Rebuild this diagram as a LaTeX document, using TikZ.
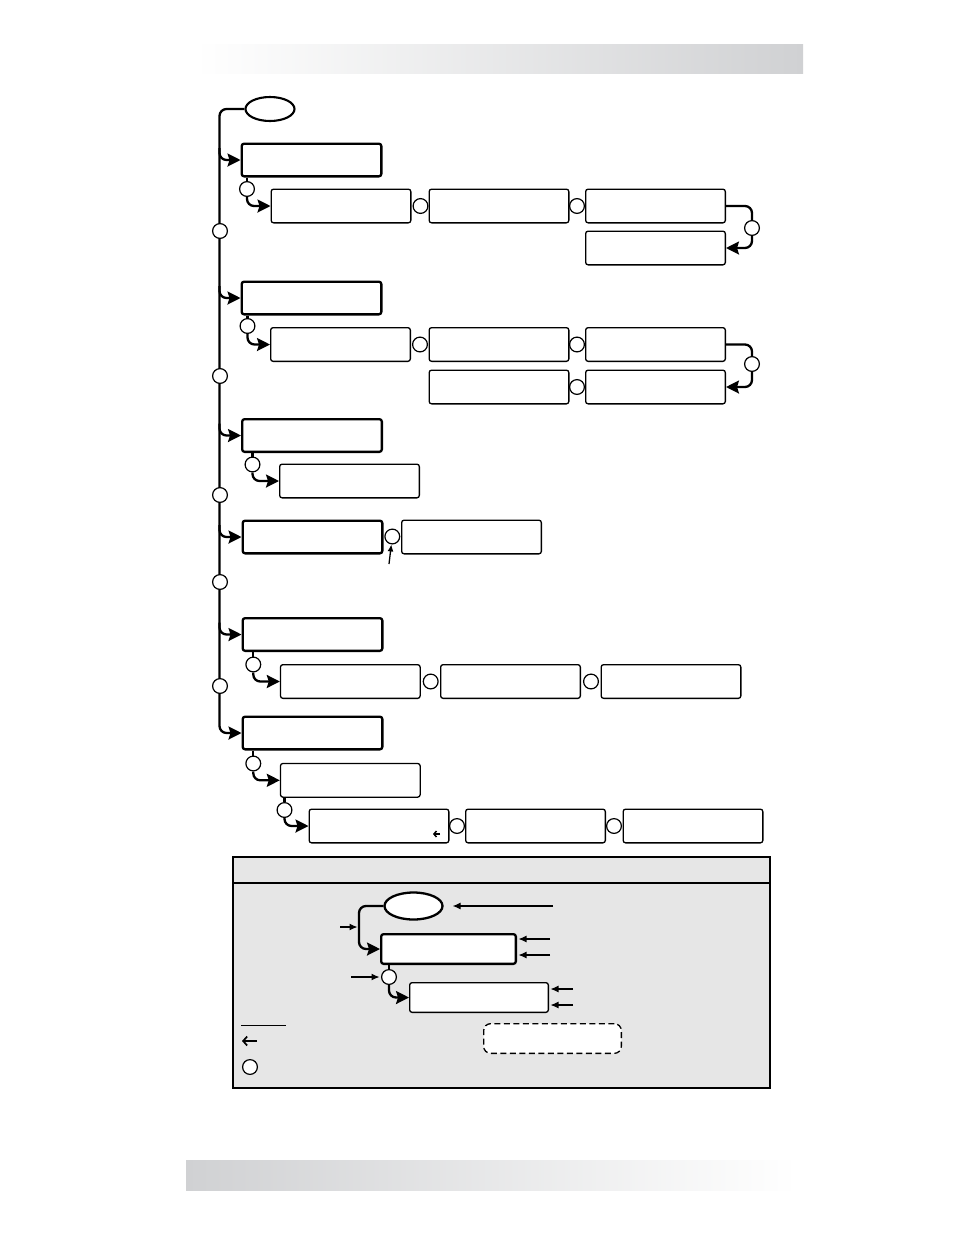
\documentclass[tikz,border=0pt]{standalone}
\usepackage{tikz}
\usetikzlibrary{arrows.meta,shapes.geometric}
\definecolor{barshade}{RGB}{208,209,211}
\definecolor{legendfill}{RGB}{230,230,230}
\tikzset{menubox/.style={draw,fill=white,line width=2.3pt,rounded corners=2.5pt,
   minimum width=139.7pt,minimum height=32.7pt,inner sep=0pt},
 subbox/.style={draw,fill=white,line width=1.3pt,rounded corners=2.5pt,
   minimum width=139.7pt,minimum height=33.7pt,inner sep=0pt},
 knob/.style={circle,draw,fill=white,line width=1.2pt,minimum size=14.8pt,inner sep=0pt},
 oval/.style={ellipse,draw,fill=white,line width=2.1pt,inner sep=0pt},
 wire/.style={line width=2.3pt,rounded corners=7pt},
 wirearrow/.style={wire,-{Stealth[length=13pt,width=13pt,inset=2pt]}},
 pointer/.style={line width=1.1pt,shorten >=1.5pt,-{Latex[length=8pt,width=7pt]}},
 }

\begin{document}
\begin{tikzpicture}[x=1pt,y=-1pt]
    \useasboundingbox (0,0) rectangle (954,1235);
    \shade[left color=white,right color=barshade] (195,44) rectangle (803,73);
    \shade[left color=barshade,right color=white] (186,1160) rectangle (797,1190);

    % menu tree
    \node[oval,minimum width=49pt,minimum height=24pt] (root) at (270,109) {};
    \node[menubox] (m1) at (311.5,160) {};
    \node[menubox] (m2) at (311.5,298) {};
    \node[menubox] (m3) at (312,435.5) {};
    \node[menubox] (m4) at (312.5,537) {};
    \node[menubox] (m5) at (312.5,634.5) {};
    \node[menubox] (m6) at (312.5,733) {};
    \coordinate (spine) at (219.5,0);
    \draw[wirearrow] (root.west) -- (root.west -| spine) |- (m6.west);
    \foreach \m in {m1,m2,m3,m4,m5}
        \draw[wirearrow] ([yshift=12pt]\m.west -| spine) |- (\m.west);
    \node[knob] (s1) at (220,231) {};
    \node[knob] (s2) at (220,376) {};
    \node[knob] (s3) at (220,495) {};
    \node[knob] (s4) at (220,582) {};
    \node[knob] (s5) at (220,686) {};

    % first row
    \node[knob] (k11) at (247,189) {};
    \node[subbox] (b11) at (341,206) {};
    \node[knob] (k12) at (420.5,206) {};
    \node[subbox] (b12) at (499,206) {};
    \node[knob] (k13) at (577,206) {};
    \node[subbox] (b13) at (655.5,206) {};
    \node[subbox] (b14) at (655.5,248) {};
    \node[knob] (k14) at (752,228) {};
    \draw[wire] (m1.south -| k11) -- (k11);
    \draw[wirearrow] (k11) |- (b11.west);
    \draw[wire] (b13.east) -| (k14);
    \draw[wirearrow] (k14) |- (b14.east);

    % second row
    \node[knob] (k21) at (247.5,326) {};
    \node[subbox] (b21) at (340.5,344.5) {};
    \node[knob] (k22) at (420,344.5) {};
    \node[subbox] (b22) at (499,344.5) {};
    \node[knob] (k23) at (577,344.5) {};
    \node[subbox] (b23) at (655.5,344.5) {};
    \node[subbox] (b24) at (655.5,387) {};
    \node[knob] (k24) at (752,364) {};
    \node[knob] (k25) at (577,387) {};
    \node[subbox] (b25) at (499,387) {};
    \draw[wire] (m2.south -| k21) -- (k21);
    \draw[wirearrow] (k21) |- (b21.west);
    \draw[wire] (b23.east) -| (k24);
    \draw[wirearrow] (k24) |- (b24.east);

    % third and fourth rows
    \node[knob] (k31) at (252.5,464.5) {};
    \node[subbox] (b31) at (349.5,481) {};
    \draw[wire] (m3.south -| k31) -- (k31);
    \draw[wirearrow] (k31) |- (b31.west);
    \node[knob] (k41) at (392.3,536.5) {};
    \node[subbox] (b41) at (471.5,537) {};
    \coordinate (tap) at (389,564);
    \draw[pointer,line width=1.3pt,shorten >=0pt,-{Latex[length=7pt,width=6pt]}] (tap) -- (k41);

    % fifth row
    \node[knob] (k51) at (253.3,664.5) {};
    \node[subbox] (b51) at (350.3,681.5) {};
    \node[knob] (k52) at (430.7,681.5) {};
    \node[subbox] (b52) at (510.5,681.5) {};
    \node[knob] (k53) at (591,681.5) {};
    \node[subbox] (b53) at (671,681.5) {};
    \draw[wire] (m5.south -| k51) -- (k51);
    \draw[wirearrow] (k51) |- (b51.west);

    % sixth row
    \node[knob] (k61) at (253.3,763.5) {};
    \node[subbox] (b61) at (350.3,780.3) {};
    \node[knob] (k62) at (284.5,810) {};
    \node[subbox] (b62) at (379,826) {};
    \node[knob] (k63) at (457,826) {};
    \node[subbox] (b63) at (535.5,826) {};
    \node[knob] (k64) at (614,826) {};
    \node[subbox] (b64) at (693,826) {};
    \draw[wire] (m6.south -| k61) -- (k61);
    \draw[wirearrow] (k61) |- (b61.west);
    \draw[wire] (b61.south -| k62) -- (k62);
    \draw[wirearrow] (k62) |- (b62.west);
    \draw[line width=1.5pt,-{Straight Barb[length=2.5pt,width=6pt]}]
        ([xshift=61pt,yshift=-8pt]b62.center) -- ++(-7,0);

    % legend
    \draw[line width=2.3pt,fill=legendfill] (233,857) rectangle (770,1088);
    \draw[line width=2.3pt] (233,883) -- (770,883);
    \node[oval,line width=2.3pt,minimum width=58pt,minimum height=27pt] (lroot) at (413.5,906) {};
    \node[menubox,minimum width=134.7pt,minimum height=29.7pt] (lm) at (448.5,949) {};
    \node[knob] (lk) at (389,977) {};
    \node[subbox,minimum width=138.7pt,minimum height=29.7pt] (lb) at (479,997.5) {};
    \node[subbox,dash pattern=on 6pt off 3.5pt,rounded corners=7pt,
        minimum width=137.7pt,minimum height=29.7pt] (ldash) at (552.5,1038.5) {};
    \coordinate (lspine) at (359,0);
    \draw[wirearrow] (lroot.west) -- (lroot.west -| lspine) |- (lm.west);
    \draw[wire] (lm.south -| lk) -- (lk);
    \draw[wirearrow] (lk) |- (lb.west);
    \coordinate (t1) at (553,906);
    \coordinate (t2) at (340,927);
    \coordinate (t3) at (550,939);
    \coordinate (t4) at (550,955);
    \coordinate (t5) at (351,977);
    \coordinate (t6) at (573,989);
    \coordinate (t7) at (573,1005);
    \draw[pointer,shorten >=9pt] (t1) -- (lroot.east);
    \draw[pointer] (t2) -- (t2 -| lspine);
    \draw[pointer] (t3) -- (t3 -| lm.east);
    \draw[pointer] (t4) -- (t4 -| lm.east);
    \draw[pointer] (t5) -- (lk);
    \draw[pointer] (t6) -- (t6 -| lb.east);
    \draw[pointer] (t7) -- (t7 -| lb.east);
    \draw[line width=1pt] (241,1025) -- (286,1025);
    \draw[line width=1.7pt,-{Straight Barb[length=4pt,width=9pt]}] (257,1041) -- (242,1041);
    \node[knob] (lkey) at (250,1067) {};
\end{tikzpicture}
\end{document}
